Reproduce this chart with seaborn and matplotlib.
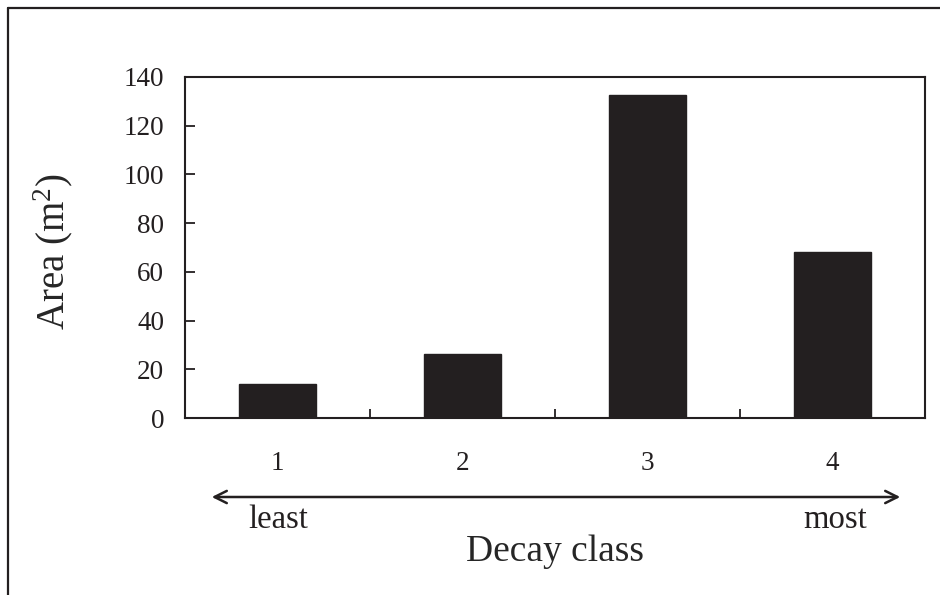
import matplotlib
matplotlib.use("Agg")
import matplotlib.pyplot as plt
import seaborn as sns
from matplotlib.lines import Line2D

# Data
classes = ["1", "2", "3", "4"]
area = [13.8, 26.3, 132.6, 68.1]
yticks = [0, 20, 40, 60, 80, 100, 120, 140]

ink = "#231f20"

sns.set_style("ticks")
plt.rcParams["font.family"] = ["Liberation Serif", "DejaVu Serif"]
plt.rcParams["mathtext.fontset"] = "custom"
plt.rcParams["mathtext.rm"] = "Liberation Serif"
plt.rcParams["mathtext.it"] = "Liberation Serif:italic"
plt.rcParams["text.color"] = ink
plt.rcParams["axes.edgecolor"] = ink

fig = plt.figure(figsize=(9.4, 5.95), dpi=100)
ax = fig.add_axes([185 / 940, 1 - 418 / 595, 740 / 940, 341 / 595])

sns.barplot(x=classes, y=area, color=ink, width=0.416, saturation=1, ax=ax,
            edgecolor=ink)

ax.set_xlim(-0.5, 3.5)
ax.set_ylim(0, 140)
ax.set_yticks(yticks)
for s in ax.spines.values():
    s.set_linewidth(1.5)
    s.set_color(ink)

# category labels without marks, boundary marks pointing in
ax.tick_params(axis="x", which="major", length=0, pad=24, labelsize=19.5, colors=ink)
ax.set_xticks([0.5, 1.5, 2.5], minor=True)
ax.tick_params(axis="x", which="minor", direction="in", length=6.5, width=1.3, color=ink)
ax.tick_params(axis="y", direction="in", length=7, width=1.3, pad=15, labelsize=19.5, colors=ink)

ax.set_ylabel("Area (m$^{2}$)", fontsize=28)
ax.yaxis.set_label_coords(-0.149, 0.487)
ax.set_xlabel("Decay class", fontsize=27)
ax.xaxis.set_label_coords(0.5, -0.343)

# least -> most arrow under the classes
ax.annotate("", xy=(209 / 940, 1 - 497 / 595), xytext=(903 / 940, 1 - 497 / 595),
            xycoords="figure fraction",
            arrowprops=dict(arrowstyle="<->", color=ink, lw=1.8,
                            mutation_scale=22))
fig.text(278 / 940, 1 - 528 / 595, "least", ha="center", va="baseline", fontsize=23.5)
fig.text(835 / 940, 1 - 528 / 595, "most", ha="center", va="baseline", fontsize=23.5)

# outer frame (top and left edges visible)
fig.add_artist(Line2D([8 / 940, 8 / 940], [0, 1 - 8 / 595], transform=fig.transFigure,
                      color=ink, lw=1.6))
fig.add_artist(Line2D([8 / 940, 1], [1 - 8 / 595, 1 - 8 / 595], transform=fig.transFigure,
                      color=ink, lw=1.6))

fig.savefig("out.png", dpi=100)
